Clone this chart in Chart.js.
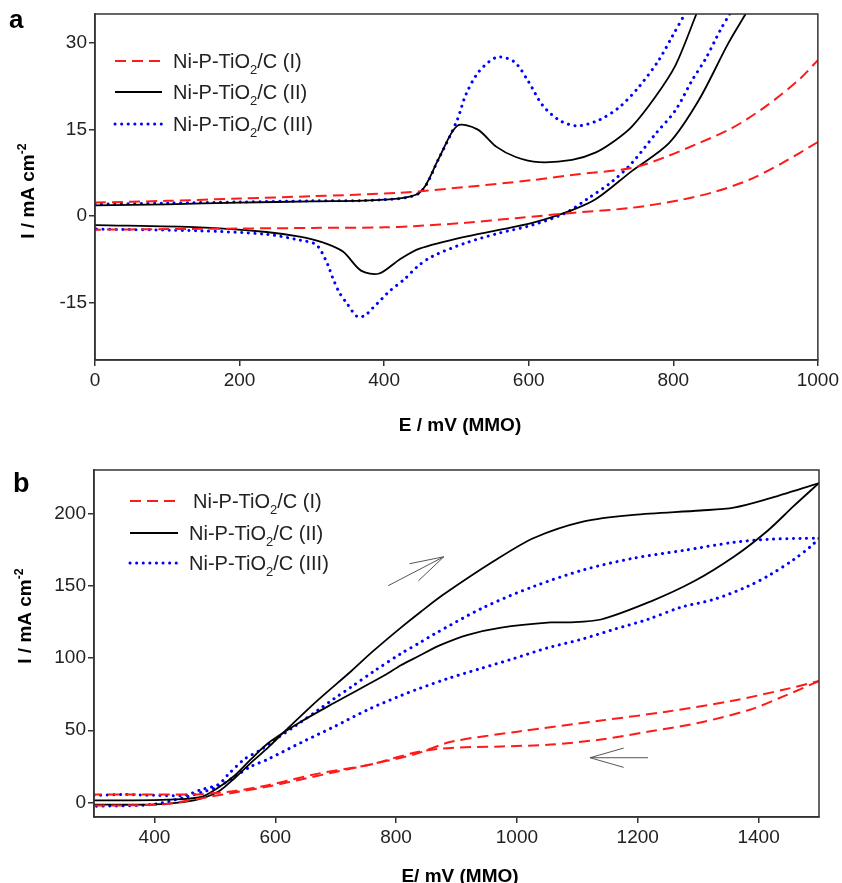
<!DOCTYPE html>
<html>
<head>
<meta charset="utf-8">
<script src="https://cdn.jsdelivr.net/npm/chart.js@4.4.1/dist/chart.umd.min.js"></script>
<style>
  html, body { margin: 0; padding: 0; background: #fff; }
  #wrap { position: relative; width: 842px; height: 883px; }
  canvas { position: absolute; left: 0; }
  #chartA { top: 0; }
  #chartB { top: 450px; }
</style>
</head>
<body>
<div id="wrap">
  <canvas id="chartA" width="842" height="440"></canvas>
  <canvas id="chartB" width="842" height="433"></canvas>
</div>
<script>
// legend names
const seriesNames = ["Ni-P-TiO₂/C (I)", "Ni-P-TiO₂/C (II)", "Ni-P-TiO₂/C (III)"];

// ---- panel a : E (mV) and I (mA cm-2), forward / reverse scan
const aRedFwdE = [0, 100, 200, 300, 421, 513, 605, 660, 743, 789, 835, 881, 927, 973, 1000];
const aRedFwdI = [2.3, 2.6, 3.0, 3.4, 4.0, 5.0, 6.2, 7.1, 8.3, 10.2, 12.6, 15.2, 18.9, 23.5, 27.0];
const aRedRevE = [1000, 950, 904, 858, 812, 743, 660, 582, 513, 441, 400, 300, 200, 100, 0];
const aRedRevI = [12.8, 9.1, 6.2, 4.2, 2.8, 1.4, 0.5, -0.4, -1.2, -1.8, -2.0, -2.1, -2.2, -2.3, -2.4];

const aBlkFwdE = [0, 100, 200, 300, 400, 449, 475, 501, 529, 555, 582, 614, 660, 693, 720, 743, 775, 803, 832];
const aBlkFwdI = [1.8, 2.0, 2.3, 2.5, 2.8, 4.0, 9.8, 15.6, 15.0, 12.0, 10.2, 9.3, 9.7, 11.0, 13.1, 15.5, 20.6, 26.1, 35];
const aBlkRevE = [900, 876, 835, 794, 743, 693, 660, 605, 513, 449, 421, 393, 368, 343, 315, 283, 237, 145, 0];
const aBlkRevI = [35, 29.9, 20, 12.6, 7.8, 2.9, 1.0, -1.2, -3.6, -5.7, -7.6, -10.0, -9.5, -6.2, -4.6, -3.6, -2.8, -2.0, -1.6];

const aBluFwdE = [0, 100, 200, 300, 400, 449, 475, 501, 513, 531, 556, 580, 600, 619, 642, 667, 697, 725, 752, 780, 798, 816];
const aBluFwdI = [2.0, 2.2, 2.4, 2.6, 2.8, 4.0, 9.8, 16.6, 21.0, 25.0, 27.5, 26.7, 23.2, 19.2, 16.6, 15.6, 16.6, 18.8, 22.3, 27.0, 31.0, 35.0];
const aBluRevE = [878, 865, 845, 826, 803, 776, 743, 715, 683, 651, 605, 559, 513, 467, 446, 428, 407, 396, 384, 373, 363, 348, 338, 329, 324, 319, 306, 283, 237, 145, 0];
const aBluRevI = [35, 32.2, 27.3, 23.5, 18.3, 14.3, 9.2, 5.9, 3.1, 0.5, -1.6, -3.0, -4.7, -7.0, -8.8, -11.0, -13.1, -14.5, -16.0, -17.3, -17.5, -15.1, -13.3, -10.8, -9.1, -7.6, -5.0, -4.2, -3.2, -2.6, -2.3];

const aXTicks = [0, 200, 400, 600, 800, 1000];
const aYTicks = [-15, 0, 15, 30];

// ---- panel b
const bRedFwdE = [300, 350, 420, 478, 533, 588, 643, 698, 754, 808, 836, 891, 1001, 1139, 1250, 1359, 1441, 1500];
const bRedFwdI = [-2, -2, -1, 3, 7, 11, 16, 21, 26, 31, 34, 42, 49, 56.7, 63, 70.6, 78, 84];
const bRedRevE = [1500, 1441, 1387, 1304, 1221, 1139, 1056, 974, 891, 836, 754, 671, 588, 533, 478, 420, 350, 300];
const bRedRevI = [84, 73.4, 64.4, 55.4, 49.3, 43.6, 40.1, 38.8, 37.8, 35, 26, 20, 12, 8, 5.8, 5.5, 5.5, 5.5];

const bBlkFwdE = [300, 400, 450, 478, 506, 533, 560, 588, 615, 671, 726, 760, 808, 841, 879, 962, 1028, 1111, 1193, 1304, 1359, 1415, 1500];
const bBlkFwdI = [-1.5, -1.3, 0.5, 2.8, 7.6, 17, 27.6, 38, 49, 71, 91, 104, 121, 132, 144, 167, 183, 194.5, 199, 202, 204, 210, 221];
const bBlkRevE = [1500, 1458, 1415, 1359, 1293, 1221, 1139, 1084, 1056, 974, 919, 874, 836, 808, 781, 698, 643, 588, 560, 533, 506, 478, 423, 350, 300];
const bBlkRevI = [221, 205, 188, 170, 153, 139, 126.6, 124.6, 124.6, 121, 116, 109, 101, 95, 88, 69, 56, 41, 30, 18.7, 10.4, 4, 2, 1.5, 1.5];

const bBluFwdE = [300, 350, 400, 450, 478, 506, 522, 549, 577, 605, 632, 671, 698, 726, 764, 808, 841, 863, 945, 1028, 1111, 1193, 1276, 1359, 1415, 1469, 1500];
const bBluFwdI = [5, 5.5, 5, 5, 9, 12.5, 19.4, 30, 36.7, 45, 52.6, 64, 72, 80, 91, 103, 111, 116.5, 135, 149.5, 161, 169, 174.4, 180, 182, 182.7, 182.7];
const bBluRevE = [1500, 1486, 1458, 1420, 1382, 1326, 1271, 1216, 1160, 1106, 1051, 995, 940, 886, 836, 808, 754, 698, 643, 588, 560, 533, 506, 478, 450, 395, 300];
const bBluRevI = [182.7, 177, 168, 157.8, 149.5, 140.5, 135, 126.6, 119.7, 112.8, 107, 99.6, 92.7, 85.8, 78.5, 74, 64.4, 52.6, 41.5, 30, 25, 18, 11, 7, 3.5, -1.4, -2.6];

const bXTicks = [400, 600, 800, 1000, 1200, 1400];
const bYTicks = [0, 50, 100, 150, 200];

// scan direction arrows in panel b, [E, I] of tail and head
const bArrowTail = [[787, 150], [1217, 31]];
const bArrowHead = [[879, 170], [1121, 31]];

// line looks
const styles = [
  { color: "#ff1a1a", width: 2, dash: [11, 6], cap: "butt" },
  { color: "#000000", width: 1.8, dash: [], cap: "butt" },
  { color: "#0000ff", width: 3, dash: [0.1, 6.5], cap: "round" }
];

const FONT = "'Liberation Sans', Arial, sans-serif";

function makeSet(E, I, s) {
  return {
    data: E.map((e, i) => ({ x: e, y: I[i] })),
    showLine: true,
    borderColor: s.color,
    borderWidth: s.width,
    borderDash: s.dash,
    borderCapStyle: s.cap,
    pointRadius: 0,
    pointHoverRadius: 0,
    tension: 0.3,
    fill: false
  };
}

function axis(min, max, ticks, size, isY) {
  return {
    type: "linear",
    min: min,
    max: max,
    afterBuildTicks: s => { s.ticks = ticks.map(v => ({ value: v })); },
    afterFit: s => { if (isY) s.width = size; else s.height = size; },
    grid: { drawOnChartArea: false, drawTicks: true, tickLength: 6, color: "#333", lineWidth: 1.5 },
    border: { display: true, color: "#333", width: 1.5 },
    ticks: {
      font: { family: FONT, size: 19 },
      color: "#222",
      padding: isY ? 2 : 3,
      maxRotation: 0,
      autoSkip: false,
      callback: v => String(v)
    }
  };
}

// text with ₂ as subscript and ⁻² as superscript
function drawRich(ctx, str, x, y, size, bold, align) {
  const w = bold ? "bold " : "";
  const parts = str.split(/(₂|⁻²)/).filter(p => p !== "").map(p => {
    if (p === "₂") return { t: "2", k: "sub" };
    if (p === "⁻²") return { t: "-2", k: "sup" };
    return { t: p, k: "" };
  });
  let total = 0;
  parts.forEach(p => {
    p.size = p.k ? size * 0.65 : size;
    ctx.font = w + p.size + "px " + FONT;
    p.w = ctx.measureText(p.t).width;
    total += p.w;
  });
  let cx = align === "center" ? x - total / 2 : x;
  ctx.textAlign = "left";
  ctx.textBaseline = "alphabetic";
  parts.forEach(p => {
    ctx.font = w + p.size + "px " + FONT;
    let dy = 0;
    if (p.k === "sub") dy = size * 0.28;
    if (p.k === "sup") dy = -size * 0.42;
    ctx.fillText(p.t, cx, y + dy);
    cx += p.w;
  });
}

function decorPlugin(cfg) {
  return {
    id: "decor" + cfg.label,
    afterDraw(chart) {
      const ctx = chart.ctx;
      const a = chart.chartArea;
      ctx.save();
      // frame
      ctx.strokeStyle = "#333";
      ctx.lineWidth = 1.5;
      ctx.setLineDash([]);
      ctx.strokeRect(a.left, a.top, a.right - a.left, a.bottom - a.top);

      ctx.fillStyle = "#000";
      // panel letter
      ctx.font = "bold " + cfg.letterSize + "px " + FONT;
      ctx.textAlign = "left";
      ctx.textBaseline = "alphabetic";
      ctx.fillText(cfg.label, cfg.letterX, cfg.letterY);

      // axis titles
      drawRich(ctx, cfg.xTitle, cfg.xTitleX, cfg.xTitleY, 19, true, "center");
      ctx.save();
      ctx.translate(cfg.yTitleX, cfg.yTitleY);
      ctx.rotate(-Math.PI / 2);
      drawRich(ctx, "I / mA cm⁻²", 0, 7, 19, true, "center");
      ctx.restore();

      // legend
      seriesNames.forEach((name, i) => {
        const s = styles[i];
        const y = cfg.legY[i];
        ctx.strokeStyle = s.color;
        ctx.lineWidth = s.width;
        ctx.lineCap = s.cap;
        ctx.setLineDash(s.dash);
        ctx.beginPath();
        ctx.moveTo(cfg.legX0, y);
        ctx.lineTo(cfg.legX1, y);
        ctx.stroke();
        ctx.fillStyle = "#222";
        drawRich(ctx, name, cfg.legTextX[i], y + 7, 20, false, "left");
      });
      ctx.setLineDash([]);
      ctx.lineCap = "butt";

      // arrows
      if (cfg.arrows) {
        const xs = chart.scales.x, ys = chart.scales.y;
        ctx.strokeStyle = "#555";
        ctx.lineWidth = 1;
        cfg.arrows.tail.forEach((t, i) => {
          const h = cfg.arrows.head[i];
          const x0 = xs.getPixelForValue(t[0]), y0 = ys.getPixelForValue(t[1]);
          const x1 = xs.getPixelForValue(h[0]), y1 = ys.getPixelForValue(h[1]);
          const ang = Math.atan2(y0 - y1, x0 - x1);
          const L = 35, sp = 16 * Math.PI / 180;
          ctx.beginPath();
          ctx.moveTo(x0, y0); ctx.lineTo(x1, y1);
          ctx.moveTo(x1, y1); ctx.lineTo(x1 + L * Math.cos(ang + sp), y1 + L * Math.sin(ang + sp));
          ctx.moveTo(x1, y1); ctx.lineTo(x1 + L * Math.cos(ang - sp), y1 + L * Math.sin(ang - sp));
          ctx.stroke();
        });
      }
      ctx.restore();
    }
  };
}

function build(canvasId, sets, xAx, yAx, pad, plugin) {
  return new Chart(document.getElementById(canvasId), {
    type: "scatter",
    data: { datasets: sets },
    options: {
      responsive: false,
      animation: false,
      events: [],
      layout: { padding: pad },
      plugins: { legend: { display: false }, tooltip: { enabled: false } },
      scales: { x: xAx, y: yAx }
    },
    plugins: [plugin]
  });
}

build("chartA", [
    makeSet(aRedFwdE, aRedFwdI, styles[0]), makeSet(aRedRevE, aRedRevI, styles[0]),
    makeSet(aBlkFwdE, aBlkFwdI, styles[1]), makeSet(aBlkRevE, aBlkRevI, styles[1]),
    makeSet(aBluFwdE, aBluFwdI, styles[2]), makeSet(aBluRevE, aBluRevI, styles[2])
  ],
  axis(0, 1000, aXTicks, 80, false),
  axis(-25, 35, aYTicks, 95, true),
  { left: 0, right: 23, top: 14, bottom: 0 },
  decorPlugin({
    label: "a", letterSize: 26, letterX: 9, letterY: 28,
    xTitle: "E / mV (MMO)", xTitleX: 460, xTitleY: 431,
    yTitleX: 27, yTitleY: 191,
    legX0: 115, legX1: 162, legY: [61, 92, 124], legTextX: [173, 173, 173]
  })
);

build("chartB", [
    makeSet(bRedFwdE, bRedFwdI, styles[0]), makeSet(bRedRevE, bRedRevI, styles[0]),
    makeSet(bBlkFwdE, bBlkFwdI, styles[1]), makeSet(bBlkRevE, bBlkRevI, styles[1]),
    makeSet(bBluFwdE, bBluFwdI, styles[2]), makeSet(bBluRevE, bBluRevI, styles[2])
  ],
  axis(300, 1500, bXTicks, 66, false),
  axis(-10, 230, bYTicks, 94, true),
  { left: 0, right: 23, top: 20, bottom: 0 },
  decorPlugin({
    label: "b", letterSize: 27, letterX: 13, letterY: 42,
    xTitle: "E/ mV (MMO)", xTitleX: 460, xTitleY: 432,
    yTitleX: 24, yTitleY: 166,
    legX0: 130, legX1: 178, legY: [51, 83, 113], legTextX: [193, 189, 189],
    arrows: { tail: bArrowTail, head: bArrowHead }
  })
);
</script>
</body>
</html>
